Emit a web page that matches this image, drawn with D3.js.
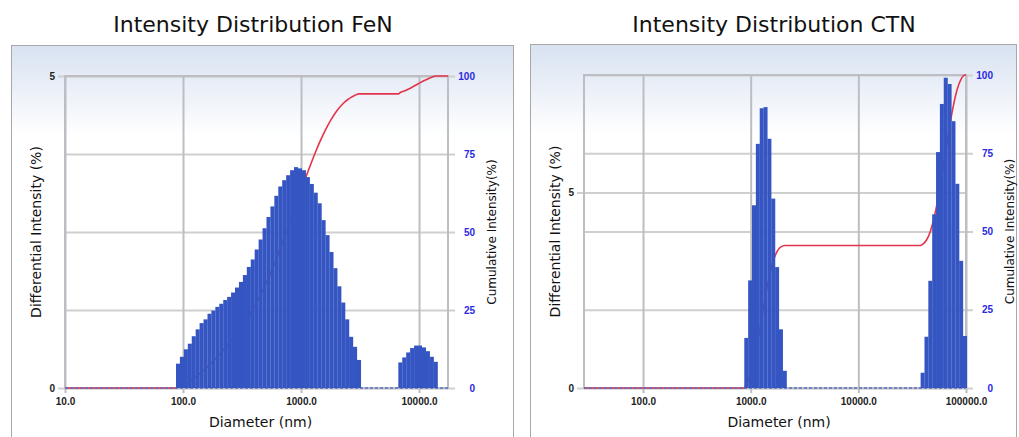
<!DOCTYPE html>
<html>
<head>
<meta charset="utf-8">
<script src="https://cdn.jsdelivr.net/npm/d3@7"></script>
<style>
  body { margin: 0; background: #fff; }
  svg { display: block; }
</style>
</head>
<body>
<svg id="chart" width="1019" height="437"></svg>
<script>
// FeN: bin diameters (nm), differential intensity (%), cumulative intensity (%)
const fenDiameter = [90.6, 97.8, 105.6, 114.1, 123.2, 133.0, 143.6, 155.1, 167.5, 180.8,
  195.3, 210.8, 227.7, 245.8, 265.4, 286.6, 309.5, 334.2, 360.8, 389.6,
  420.7, 454.3, 490.5, 529.6, 571.9, 617.5, 666.8, 720.0, 777.4, 839.4,
  906.4, 978.7, 1056.8, 1141.1, 1232.1, 1330.4, 1436.6, 1551.2, 1675.0, 1808.6,
  1952.9, 2108.7, 2276.9, 2458.5, 2654.7, 2866.5, 3095.2,
  6938, 7492, 8090, 8735, 9432, 10185, 10997, 11875, 12822, 13845];
const fenIntensity = [0.39, 0.50, 0.62, 0.71, 0.83, 0.94, 1.04, 1.10, 1.19, 1.24,
  1.30, 1.35, 1.41, 1.46, 1.53, 1.61, 1.70, 1.81, 1.94, 2.06,
  2.22, 2.38, 2.56, 2.74, 2.91, 3.08, 3.23, 3.33, 3.41, 3.49,
  3.54, 3.52, 3.49, 3.38, 3.27, 3.13, 2.96, 2.69, 2.45, 2.18,
  1.92, 1.63, 1.37, 1.10, 0.82, 0.66, 0.45,
  0.41, 0.49, 0.57, 0.64, 0.68, 0.68, 0.65, 0.59, 0.50, 0.42];
const fenCumulative = [0.39, 0.90, 1.53, 2.25, 3.09, 4.05, 5.11, 6.23, 7.44, 8.70,
  10.02, 11.40, 12.83, 14.32, 15.88, 17.51, 19.24, 21.09, 23.06, 25.16,
  27.42, 29.84, 32.45, 35.23, 38.19, 41.33, 44.62, 48.01, 51.48, 55.03,
  58.63, 62.21, 65.76, 69.20, 72.53, 75.72, 78.73, 81.47, 83.96, 86.18,
  88.13, 89.79, 91.19, 92.31, 93.14, 93.81, 94.27,
  94.69, 95.19, 95.77, 96.42, 97.11, 97.80, 98.46, 99.06, 99.57, 100.0];

// CTN
const ctnDiameter = [909, 987, 1072, 1164, 1264, 1372, 1490, 1618, 1757, 1908, 2072,
  39480, 42870, 46560, 50560, 54900, 59620, 64740, 70300, 76340, 82900, 90020, 97760];
const ctnIntensity = [1.28, 2.75, 4.67, 6.24, 7.15, 7.18, 6.37, 4.84, 3.09, 1.50, 0.44,
  0.39, 1.31, 2.74, 4.44, 6.03, 7.26, 7.93, 7.77, 6.82, 5.22, 3.25, 1.33];
const ctnCumulative = [1.28, 4.03, 8.70, 14.94, 22.09, 29.27, 35.64, 40.48, 43.57, 45.07, 45.51,
  45.90, 47.21, 49.95, 54.39, 60.42, 67.68, 75.61, 83.38, 90.20, 95.42, 98.67, 100.0];

// ticks
const fenXTicks = [10, 100, 1000, 10000];
const ctnXTicks = [100, 1000, 10000, 100000];
const diffTicks = [0, 5];
const cumTicks = [0, 25, 50, 75, 100];

const panels = [
  {title: "Intensity Distribution FeN", titleX: 253, frame: [11, 45, 502, 410],
    left: 65, right: 448, top: 76, bottom: 388, xDomain: [10, 17600], yMax: 5,
    xTicks: fenXTicks, diameter: fenDiameter, intensity: fenIntensity, cumulative: fenCumulative},
  {title: "Intensity Distribution CTN", titleX: 774, frame: [530, 44, 486, 410],
    left: 584, right: 966, top: 75, bottom: 388, xDomain: [28.3, 100000], yMax: 8,
    xTicks: ctnXTicks, diameter: ctnDiameter, intensity: ctnIntensity, cumulative: ctnCumulative}
];

const svg = d3.select("#chart");
const font = "'DejaVu Sans', Verdana, sans-serif";
const tickFont = "'Liberation Sans', Arial, sans-serif";

let grad = svg.append("defs").append("linearGradient")
  .attr("id", "panelbg").attr("x1", 0).attr("y1", 0).attr("x2", 0).attr("y2", 1);
grad.append("stop").attr("offset", "0%").attr("stop-color", "#d8e2f1");
grad.append("stop").attr("offset", "22%").attr("stop-color", "#ffffff");

function drawPanel(p) {
  let g = svg.append("g");
  let w = p.right - p.left, h = p.bottom - p.top;

  g.append("rect")
    .attr("x", p.frame[0] + 0.5).attr("y", p.frame[1] + 0.5)
    .attr("width", p.frame[2]).attr("height", p.frame[3])
    .attr("fill", "url(#panelbg)").attr("stroke", "#a8a8a8");

  g.append("text")
    .attr("x", p.titleX).attr("y", 32)
    .attr("text-anchor", "middle")
    .style("font-family", font).style("font-size", "22px").attr("fill", "#111")
    .text(p.title);

  let x = d3.scaleLog().domain(p.xDomain).range([p.left, p.right]);
  let y = d3.scaleLinear().domain([0, p.yMax]).range([p.bottom, p.top]);
  let yc = d3.scaleLinear().domain([0, 100]).range([p.bottom, p.top]);

  // horizontal grid + right axis (cumulative)
  let right = g.append("g")
    .attr("transform", "translate(" + (p.right + 7) + ",0)")
    .call(d3.axisRight(yc).tickValues(cumTicks).tickSize(-(w + 7)).tickPadding(0)
      .tickFormat(d3.format("d")));
  right.select(".domain").remove();
  right.selectAll("line").attr("stroke", "#cfcfcf").attr("stroke-width", 2);
  right.selectAll("text")
    .attr("x", 20).attr("text-anchor", "end")
    .style("font-family", tickFont).style("font-size", "10px").style("font-weight", "bold")
    .attr("fill", "#2a2ae0");

  // left axis (differential)
  let leftAx = g.append("g")
    .attr("transform", "translate(" + (p.left - 7) + ",0)")
    .call(d3.axisLeft(y).tickValues(diffTicks).tickSize(-(w + 7)).tickPadding(0)
      .tickFormat(d3.format("d")));
  leftAx.select(".domain").remove();
  leftAx.selectAll("line").attr("stroke", "#cfcfcf").attr("stroke-width", 2);
  leftAx.selectAll("text")
    .attr("x", -3)
    .style("font-family", tickFont).style("font-size", "10px").style("font-weight", "bold")
    .attr("fill", "#222");

  // vertical grid + bottom axis
  let bottom = g.append("g")
    .attr("transform", "translate(0," + (p.bottom + 5) + ")")
    .call(d3.axisBottom(x).tickValues(p.xTicks).tickSize(-(h + 5)).tickPadding(5)
      .tickFormat(d3.format(".1f")));
  bottom.select(".domain").remove();
  bottom.selectAll("line").attr("stroke", "#bcbec4").attr("stroke-width", 2);
  bottom.selectAll("text")
    .style("font-family", tickFont).style("font-size", "10px").style("font-weight", "bold")
    .attr("fill", "#222");

  // plot border
  g.append("rect")
    .attr("x", p.left).attr("y", p.top).attr("width", w).attr("height", h)
    .attr("fill", "none").attr("stroke", "#bcbec4").attr("stroke-width", 2);

  // bins
  let bins = p.diameter.map((d, i) => {
    let prev = i > 0 ? d / p.diameter[i - 1] : Infinity;
    let next = i < p.diameter.length - 1 ? p.diameter[i + 1] / d : Infinity;
    let half = Math.sqrt(Math.min(prev, next));
    return {d: d, lo: d / half, hi: d * half, v: p.intensity[i], c: p.cumulative[i], gap: prev > 1.5};
  });

  // cumulative line (sits under the bars)
  let pts = [[p.xDomain[0], 0]];
  bins.forEach((b, i) => {
    if (i === 0 || b.gap) pts.push([b.lo, i === 0 ? 0 : bins[i - 1].c]);
    pts.push([b.d, b.c]);
  });
  pts.push([p.xDomain[1], 100]);
  g.append("path")
    .datum(pts)
    .attr("fill", "none").attr("stroke", "#e3344c").attr("stroke-width", 1.6)
    .attr("d", d3.line().x(d => x(d[0])).y(d => yc(d[1])).curve(d3.curveMonotoneX));

  // zero baseline
  g.append("line")
    .attr("x1", p.left).attr("x2", p.right).attr("y1", p.bottom).attr("y2", p.bottom)
    .attr("stroke", "#5b6fc2").attr("stroke-width", 1.5).attr("stroke-dasharray", "3,2");

  g.append("g").selectAll("rect")
    .data(bins)
    .join("rect")
    .attr("x", b => x(b.lo))
    .attr("width", b => x(b.hi) - x(b.lo) + 0.15)
    .attr("y", b => y(b.v))
    .attr("height", b => p.bottom - y(b.v))
    .attr("fill", "#3556c2");

  // axis titles
  g.append("text")
    .attr("x", (p.left + p.right) / 2 + 4).attr("y", 427)
    .attr("text-anchor", "middle")
    .style("font-family", font).style("font-size", "14px").attr("fill", "#111")
    .text("Diameter (nm)");

  g.append("text")
    .attr("transform", "translate(" + (p.left - 24) + "," + ((p.top + p.bottom) / 2) + ") rotate(-90)")
    .attr("text-anchor", "middle")
    .style("font-family", font).style("font-size", "14px").attr("fill", "#111")
    .text("Differential Intensity (%)");

  g.append("text")
    .attr("transform", "translate(" + (p.right + 48) + "," + ((p.top + p.bottom) / 2) + ") rotate(-90)")
    .attr("text-anchor", "middle")
    .style("font-family", font).style("font-size", "12px").attr("fill", "#111")
    .text("Cumulative Intensity(%)");
}

panels.forEach(drawPanel);
</script>
</body>
</html>
